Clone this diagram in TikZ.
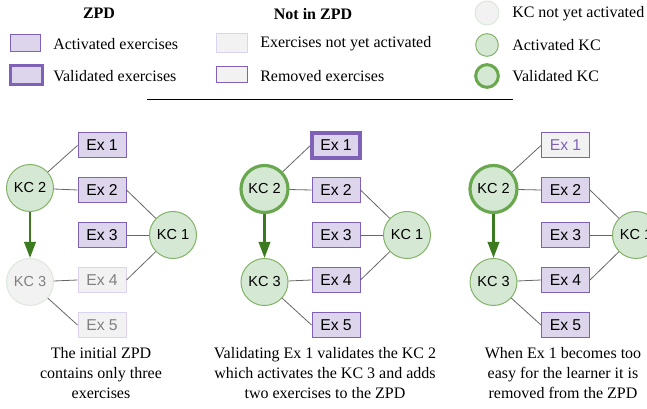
\documentclass[tikz,border=0pt]{standalone}
\usepackage{fontspec}
\setmainfont{Liberation Serif}
\setsansfont{Liberation Sans}
\usetikzlibrary{arrows.meta}
\definecolor{exfill}{HTML}{DDD5EB}
\definecolor{exborder}{HTML}{7F62B8}
\definecolor{offfill}{HTML}{F2F2F2}
\definecolor{offborder}{HTML}{DCD3EE}
\definecolor{offtext}{HTML}{808080}
\definecolor{kcfill}{HTML}{D5E8D4}
\definecolor{kcborder}{HTML}{82B366}
\definecolor{kcdark}{HTML}{6AA84F}
\definecolor{kcoffborder}{HTML}{DCE9DA}
\definecolor{unlockcol}{HTML}{3B7A1F}
\definecolor{linkcol}{HTML}{666666}

\begin{document}
\begin{tikzpicture}[x=0.75pt,y=-0.75pt]
\tikzstyle{txt}=[inner sep=0pt,font=\fontsize{12}{15}\selectfont]
\tikzstyle{ex}=[rectangle,draw=exborder,fill=exfill,line width=0.75pt,minimum width=36pt,minimum height=18.75pt,inner sep=0pt,font=\sffamily\fontsize{11.8}{14}\selectfont]
\tikzstyle{exvalid}=[ex,line width=2.4pt]
\tikzstyle{exoff}=[ex,draw=offborder,fill=offfill,text=offtext]
\tikzstyle{exremoved}=[ex,fill=offfill,text=exborder]
\tikzstyle{kc}=[circle,draw=kcborder,fill=kcfill,line width=0.75pt,minimum size=35.25pt,inner sep=0pt,font=\sffamily\fontsize{10.9}{13}\selectfont]
\tikzstyle{kcvalid}=[kc,draw=kcdark,line width=2.4pt]
\tikzstyle{kcoff}=[kc,draw=kcoffborder,fill=offfill,text=offtext]
\tikzstyle{link}=[draw=linkcol,line width=0.6pt]
\tikzstyle{unlock}=[draw=unlockcol,line width=1.9pt,-{Triangle[length=12pt,width=8.5pt]}]
\useasboundingbox (0,0) rectangle (647,409);

\node[txt,font=\bfseries\fontsize{12}{15}\selectfont] (zpd) at (99,13) {ZPD};
\node[txt,font=\bfseries\fontsize{12}{15}\selectfont] (notzpd) at (313,14) {Not in ZPD};
\node[ex,minimum width=23pt,minimum height=13pt] (legact) at (25.5,43) {};
\node[txt,anchor=west] (legacttxt) at (53,44) {Activated exercises};
\node[ex,line width=2.25pt,minimum width=24pt,minimum height=14pt] (legval) at (26,75) {};
\node[txt,anchor=west] (legvaltxt) at (53,76) {Validated exercises};
\node[exoff,minimum width=23pt,minimum height=14pt] (legoff) at (232,43) {};
\node[txt,anchor=west] (legofftxt) at (260,44) {Exercises not yet activated};
\node[exremoved,minimum width=23pt,minimum height=12pt] (legrem) at (232,75) {};
\node[txt,anchor=west] (legremtxt) at (260,76) {Removed exercises};
\node[kcoff,minimum size=18pt] (legkcoff) at (487,13) {};
\node[txt,anchor=west] (legkcofftxt) at (512,14) {KC not yet activated};
\node[kc,minimum size=17pt] (legkc) at (487,45) {};
\node[txt,anchor=west] (legkctxt) at (512,45) {Activated KC};
\node[kcvalid,line width=2.25pt,minimum size=17pt] (legkcval) at (487,76) {};
\node[txt,anchor=west] (legkcvaltxt) at (512,76) {Validated KC};
\coordinate (ruleA) at (147,100);
\coordinate (ruleB) at (513,100);
\draw[line width=0.75pt] (ruleA) -- (ruleB);

\node[kc] (p1kc2) at (30,188) {KC 2};
\node[kcoff] (p1kc3) at (30,282) {KC 3};
\node[kc] (p1kc1) at (173,235) {KC 1};
\node[ex] (p1ex1) at (102,145.5) {Ex 1};
\node[ex] (p1ex2) at (102,190) {Ex 2};
\node[ex] (p1ex3) at (102,235) {Ex 3};
\node[exoff] (p1ex4) at (102,280) {Ex 4};
\node[exoff] (p1ex5) at (102,325) {Ex 5};
\node[txt,align=center] (p1cap) at (101,373) {The initial ZPD\\contains only three\\exercises};

\node[kcvalid] (p2kc2) at (264.5,189) {KC 2};
\node[kc] (p2kc3) at (264.5,282) {KC 3};
\node[kc] (p2kc1) at (407,235) {KC 1};
\node[exvalid] (p2ex1) at (336,145.5) {Ex 1};
\node[ex] (p2ex2) at (336,190) {Ex 2};
\node[ex] (p2ex3) at (336,235) {Ex 3};
\node[ex] (p2ex4) at (336,280) {Ex 4};
\node[ex] (p2ex5) at (336,325) {Ex 5};
\node[txt,align=center] (p2cap) at (325,373) {Validating Ex 1 validates the KC 2\\which activates the KC 3 and adds\\two exercises to the ZPD};

\node[kcvalid] (p3kc2) at (493.5,189) {KC 2};
\node[kc] (p3kc3) at (493.5,282) {KC 3};
\node[kc] (p3kc1) at (636,235) {KC 1};
\node[exremoved] (p3ex1) at (565.5,145.5) {Ex 1};
\node[ex] (p3ex2) at (565.5,190) {Ex 2};
\node[ex] (p3ex3) at (565.5,235) {Ex 3};
\node[ex] (p3ex4) at (565.5,280) {Ex 4};
\node[ex] (p3ex5) at (565.5,325) {Ex 5};
\node[txt,align=center] (p3cap) at (563,373) {When Ex 1 becomes too\\easy for the learner it is\\removed from the ZPD};

\foreach \p in {p1,p2,p3}{
  \draw[link] (\p kc2) -- (\p ex1.west);
  \draw[link] (\p kc2) -- (\p ex2.west);
  \draw[link] (\p ex2.east) -- (\p kc1);
  \draw[link] (\p ex3.east) -- (\p kc1);
  \draw[link] (\p ex4.east) -- (\p kc1);
  \draw[link] (\p kc3) -- (\p ex4.west);
  \draw[link] (\p kc3) -- (\p ex5.west);
  \draw[unlock] (\p kc2) -- (\p kc3);
}
\end{tikzpicture}
\end{document}
